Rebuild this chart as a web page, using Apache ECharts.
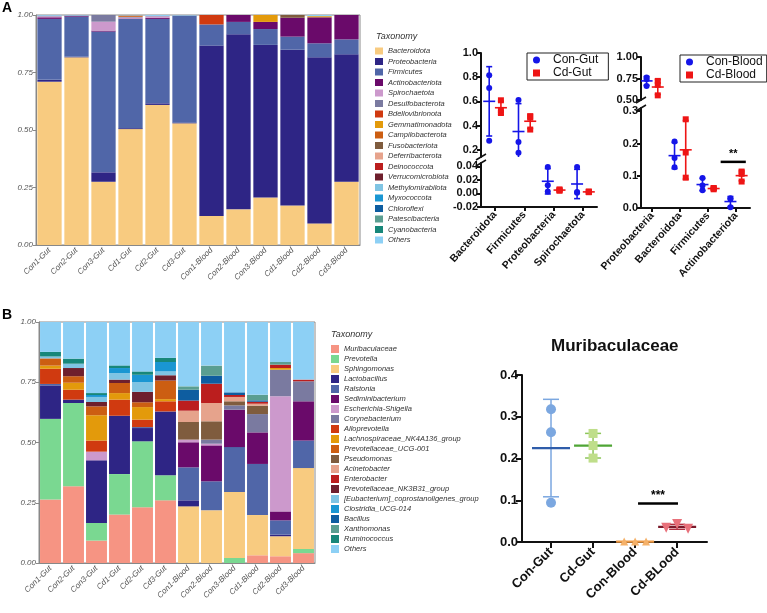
<!DOCTYPE html>
<html><head><meta charset="utf-8">
<script src="https://cdn.jsdelivr.net/npm/echarts@6/dist/echarts.min.js"></script>
<style>html,body{margin:0;padding:0;background:#fff}#c{width:767px;height:613px}</style>
</head><body><div id="c"></div><script>
const FONT = '"Liberation Sans", Arial, Helvetica, sans-serif';

// ---------- Panel A: stacked phylum composition ----------
const samplesA = ['Con1-Gut','Con2-Gut','Con3-Gut','Cd1-Gut','Cd2-Gut','Cd3-Gut','Con1-Blood','Con2-Blood','Con3-Blood','Cd1-Blood','Cd2-Blood','Cd3-Blood'];
const taxaA = ['Bacteroidota','Proteobacteria','Firmicutes','Actinobacteriota','Spirochaetota','Desulfobacterota','Bdellovibrionota','Gemmatimonadota','Campilobacterota','Fusobacteriota','Deferribacterota','Deinococcota','Verrucomicrobiota','Methylomirabilota','Myxococcota','Chloroflexi','Patescibacteria','Cyanobacteria','Others'];
const colorsA = ['#F8CB80','#2E2585','#5066A8','#6A0A6A','#CC99CC','#7A7AA0','#D03A10','#E39A0B','#CC5E12','#7F5C3E','#E6A38C','#BB1E1E','#6E1F2D','#7FC4E3','#1A96D2','#0E5DA0','#5A9E91','#17877A','#8DD0F5'];
const A_Con1Gut   = [0.710,0.008,0.265,0.007,0.004,0.003,0,0,0,0,0,0,0,0,0,0,0,0,0.003];
const A_Con2Gut   = [0.816,0.002,0.175,0.003,0,0.002,0,0,0,0,0,0,0,0,0,0,0,0,0.002];
const A_Con3Gut   = [0.275,0.041,0.612,0.004,0.039,0.029,0,0,0,0,0,0,0,0,0,0,0,0,0];
const A_Cd1Gut    = [0.504,0.004,0.475,0.002,0.004,0.003,0,0,0.006,0,0,0,0,0,0,0,0,0,0.002];
const A_Cd2Gut    = [0.609,0.007,0.367,0.005,0.006,0.002,0,0,0,0,0,0,0,0,0,0,0,0,0.004];
const A_Cd3Gut    = [0.529,0.003,0.465,0,0,0.001,0,0,0,0,0,0,0,0,0,0,0,0,0.002];
const A_Con1Blood = [0.126,0.741,0.092,0,0,0,0.041,0,0,0,0,0,0,0,0,0,0,0,0];
const A_Con2Blood = [0.155,0.761,0.054,0.030,0,0,0,0,0,0,0,0,0,0,0,0,0,0,0];
const A_Con3Blood = [0.206,0.664,0.069,0.031,0,0,0,0.030,0,0,0,0,0,0,0,0,0,0,0];
const A_Cd1Blood  = [0.172,0.677,0.057,0.082,0,0,0,0,0,0.012,0,0,0,0,0,0,0,0,0];
const A_Cd2Blood  = [0.094,0.722,0.061,0.113,0,0,0,0.005,0,0,0,0,0,0,0,0,0,0,0.005];
const A_Cd3Blood  = [0.275,0.554,0.065,0.106,0,0,0,0,0,0,0,0,0,0,0,0,0,0,0];
const rowsA = [A_Con1Gut,A_Con2Gut,A_Con3Gut,A_Cd1Gut,A_Cd2Gut,A_Cd3Gut,A_Con1Blood,A_Con2Blood,A_Con3Blood,A_Cd1Blood,A_Cd2Blood,A_Cd3Blood];

// ---------- Panel A: dot plots ----------
const gutCats = ['Bacteroidota','Firmicutes','Proteobacteria','Spirochaetota'];
const conGut = [[0.710,0.816,0.275],[0.265,0.175,0.612],[0.012,0.003,0.039],[0.002,0.001,0.039]];
const cdGut  = [[0.504,0.609,0.529],[0.475,0.367,0.465],[0.005,0.004,0.006],[0.002,0.003,0.002]];
const bloodCats = ['Proteobacteria','Bacteroidota','Firmicutes','Actinobacteriota'];
const conBlood = [[0.741,0.761,0.664],[0.126,0.155,0.206],[0.093,0.055,0.070],[0.002,0.030,0.028]];
const cdBlood  = [[0.677,0.722,0.554],[0.172,0.094,0.275],[0.058,0.062,0.061],[0.082,0.113,0.106]];
const bloodSig = [[2.45,3.35,0.143,'**']];

// ---------- Panel B: stacked genus composition ----------
const samplesB = samplesA;
const taxaB = ['Muribaculaceae','Prevotella','Sphingomonas','Lactobacillus','Ralstonia','Sediminibacterium','Escherichia-Shigella','Corynebacterium','Alloprevotella','Lachnospiraceae_NK4A136_group','Prevotellaceae_UCG-001','Pseudomonas','Acinetobacter','Enterobacter','Prevotellaceae_NK3B31_group','[Eubacterium]_coprostanoligenes_group','Clostridia_UCG-014','Bacillus','Xanthomonas','Ruminococcus','Others'];
const colorsB = ['#F69483','#7AD891','#F8CB80','#2E2585','#5066A8','#6A0A6A','#CC99CC','#7A7AA0','#D03A10','#E39A0B','#CC5E12','#7F5C3E','#E6A38C','#BB1E1E','#6E1F2D','#7FC4E3','#1A96D2','#0E5DA0','#5A9E91','#17877A','#8DD0F5'];
const B_Con1Gut   = [0.263,0.335,0,0.139,0.006,0,0,0,0.063,0.013,0.030,0,0,0,0,0.008,0,0,0,0.019,0.124];
const B_Con2Gut   = [0.318,0.346,0,0.014,0,0,0,0,0.041,0.029,0.027,0,0,0,0.034,0.018,0,0,0,0.021,0.152];
const B_Con3Gut   = [0.093,0.073,0,0.260,0,0,0.036,0,0.046,0.105,0.037,0,0,0,0.018,0.021,0.008,0,0,0.008,0.295];
const B_Cd1Gut    = [0.201,0.168,0,0.242,0,0,0,0,0.067,0.027,0.042,0,0,0,0.014,0.027,0.021,0,0,0.011,0.180];
const B_Cd2Gut    = [0.231,0.274,0,0.055,0.004,0,0,0,0.031,0.052,0.020,0,0,0,0.043,0.041,0.030,0,0,0.014,0.205];
const B_Cd3Gut    = [0.260,0.104,0,0.265,0,0,0,0,0.042,0.009,0.077,0,0,0,0.022,0.016,0.039,0,0,0.017,0.149];
const B_Con1Blood = [0,0,0.235,0.025,0.137,0.104,0.011,0,0,0,0,0.073,0.047,0.042,0,0,0,0.045,0.014,0,0.267];
const B_Con2Blood = [0,0,0.219,0,0.120,0.149,0.007,0.017,0,0,0,0.076,0.076,0.080,0,0,0,0.033,0.042,0,0.181];
const B_Con3Blood = [0,0.021,0.274,0,0.186,0.155,0,0.018,0,0,0,0.017,0.018,0.008,0,0,0,0.011,0,0,0.292];
const B_Cd1Blood  = [0.032,0,0.167,0,0.212,0.131,0,0.076,0,0,0,0.035,0.008,0.008,0,0,0,0.006,0.023,0,0.302];
const B_Cd2Blood  = [0.028,0,0.083,0.007,0.059,0.037,0.478,0.110,0,0.007,0,0,0,0.014,0,0,0,0,0.011,0,0.166];
const B_Cd3Blood  = [0.041,0.017,0.336,0,0.114,0.163,0,0.083,0,0,0,0,0,0.007,0,0,0,0,0,0,0.239];
const rowsB = [B_Con1Gut,B_Con2Gut,B_Con3Gut,B_Cd1Gut,B_Cd2Gut,B_Cd3Gut,B_Con1Blood,B_Con2Blood,B_Con3Blood,B_Cd1Blood,B_Cd2Blood,B_Cd3Blood];

// ---------- Panel B: Muribaculaceae ----------
const muriCats = ['Con-Gut','Cd-Gut','Con-Blood','Cd-BLood'];
const muriConGut = [0.318,0.263,0.094];
const muriCdGut = [0.260,0.231,0.201];
const muriConBlood = [0.001,0.001,0.001];
const muriCdBlood = [0.034,0.043,0.032];
const muriJitter = [-0.26,0,0.26];
const muriSig = [[2.07,3.02,0.092,'***']];

// ---------- helpers ----------
const mean = a => a.reduce((s,v)=>s+v,0)/a.length;
const sd = a => { const m = mean(a); return Math.sqrt(a.reduce((s,v)=>s+(v-m)*(v-m),0)/(a.length-1)); };

function errRender(o){
  return function(params, api){
    const x = api.value(0), m = api.value(1), s = api.value(2);
    const c = api.coord([x,m]), t = api.coord([x,m+s]), b = api.coord([x,m-s]);
    const st = {stroke:o.color, lineWidth:o.lw};
    const ms = {stroke:o.meanColor||o.color, lineWidth:o.mlw||o.lw};
    const ch = [];
    if (s > 0) {
      ch.push({type:'line', shape:{x1:c[0],y1:t[1],x2:c[0],y2:b[1]}, style:st});
      ch.push({type:'line', shape:{x1:c[0]-o.cap,y1:t[1],x2:c[0]+o.cap,y2:t[1]}, style:st});
      ch.push({type:'line', shape:{x1:c[0]-o.cap,y1:b[1],x2:c[0]+o.cap,y2:b[1]}, style:st});
    }
    ch.push({type:'line', shape:{x1:c[0]-o.half,y1:c[1],x2:c[0]+o.half,y2:c[1]}, style:ms});
    return {type:'group', children:ch};
  };
}
function sigRender(fs){
  return function(params, api){
    const a = api.coord([api.value(0), api.value(2)]), b = api.coord([api.value(1), api.value(2)]);
    return {type:'group', children:[
      {type:'line', shape:{x1:a[0],y1:a[1],x2:b[0],y2:b[1]}, style:{stroke:'#000', lineWidth:2.5}},
      {type:'text', style:{text:api.value(3), x:(a[0]+b[0])/2, y:a[1]-2, align:'center', verticalAlign:'bottom', font:'bold '+fs+'px '+FONT, fill:'#000'}}
    ]};
  };
}

const series = [];
taxaA.forEach((t,i)=>series.push({type:'bar', name:t, stack:'A', xAxisIndex:0, yAxisIndex:0, barCategoryGap:'10%', itemStyle:{color:colorsA[i]}, data:rowsA.map(r=>r[i])}));
taxaB.forEach((t,i)=>series.push({type:'bar', name:t, stack:'B', xAxisIndex:5, yAxisIndex:5, barCategoryGap:'9%', itemStyle:{color:colorsB[i]}, data:rowsB.map(r=>r[i])}));

const BLUE = '#1515E8', RED = '#EE1515';
function dotGroup(name, groups, off, color, symbol, axes){
  axes.forEach(ax=>{
    series.push({type:'custom', name:name+' SD', xAxisIndex:ax, yAxisIndex:ax, clip:true, z:3,
      renderItem: errRender({color:color, lw:1.6, cap:3, half:6}),
      encode:{x:0,y:1}, data: groups.map((g,i)=>[i+off, mean(g), sd(g)])});
    const pts = [];
    groups.forEach((g,i)=>g.forEach(v=>pts.push([i+off, v])));
    series.push({type:'scatter', name:name, xAxisIndex:ax, yAxisIndex:ax, clip:true, z:4, symbol:symbol, symbolSize:6,
      itemStyle:{color:color, opacity:1}, data:pts});
  });
}
dotGroup('Con-Gut', conGut, -0.2, BLUE, 'circle', [1,2]);
dotGroup('Cd-Gut', cdGut, 0.2, RED, 'rect', [1,2]);
dotGroup('Con-Blood', conBlood, -0.2, BLUE, 'circle', [3,4]);
dotGroup('Cd-Blood', cdBlood, 0.2, RED, 'rect', [3,4]);
series.push({type:'custom', name:'sigBlood', xAxisIndex:4, yAxisIndex:4, renderItem:sigRender(11), encode:{x:[0,1],y:2}, data:bloodSig, z:5});

// Muribaculaceae
const muriGroups = [
  {d:muriConGut, pc:'#7BA7E0', ec:'#7BA7E0', mc:'#2F5DAA', sym:'circle', size:10, rot:0, jit:false},
  {d:muriCdGut, pc:'#BFDE8A', ec:'#8CC65A', mc:'#4FA535', sym:'rect', size:9, rot:0, jit:false},
  {d:muriConBlood, pc:'#F5B169', ec:'#F5B169', mc:'#EE9A45', sym:'triangle', size:8, rot:0, jit:true},
  {d:muriCdBlood, pc:'#E8707A', ec:'#B03040', mc:'#7A1A2A', sym:'triangle', size:10, rot:180, jit:true}
];
muriGroups.forEach((g,i)=>{
  series.push({type:'custom', name:muriCats[i]+' SD', xAxisIndex:6, yAxisIndex:6, z:3,
    renderItem: errRender({color:g.ec, lw:1.5, cap:8, half:19, meanColor:g.mc, mlw:2.2}),
    encode:{x:0,y:1}, data:[[i, mean(g.d), sd(g.d)]]});
  series.push({type:'scatter', name:muriCats[i], xAxisIndex:6, yAxisIndex:6, z:4, symbol:g.sym, symbolRotate:g.rot, symbolSize:g.size,
    itemStyle:{color:g.pc, opacity:1}, data:g.d.map((v,k)=>[i+(g.jit?muriJitter[k]:0), v])});
});
series.push({type:'custom', name:'sigMuri', xAxisIndex:6, yAxisIndex:6, renderItem:sigRender(12), encode:{x:[0,1],y:2}, data:muriSig, z:5});

// ---------- axes ----------
const grayLbl = {fontSize:8, fontStyle:'italic', color:'#555', fontFamily:FONT};
const boldLbl = {fontSize:11, fontWeight:'bold', color:'#111', fontFamily:FONT};
const catLbl = {fontSize:10.5, fontWeight:'bold', color:'#111', fontFamily:FONT};
const blackLine = {show:true, onZero:false, lineStyle:{color:'#111', width:2}};
const blackTick = {show:true, length:4, lineStyle:{color:'#111', width:2}};

const xAxis = [
  {gridIndex:0, type:'category', data:samplesA, axisLine:{onZero:false, lineStyle:{color:'#888'}}, axisTick:{alignWithLabel:true, length:3, lineStyle:{color:'#888'}}, axisLabel:Object.assign({rotate:45, margin:4, interval:0}, grayLbl)},
  {gridIndex:1, type:'value', min:-0.48, max:3.48, show:false},
  {gridIndex:2, type:'value', min:-0.48, max:3.48, splitLine:{show:false}, axisLine:blackLine,
    axisTick:Object.assign({customValues:[0,1,2,3]}, blackTick),
    axisLabel:Object.assign({customValues:[0,1,2,3], rotate:48, margin:6, formatter:v=>gutCats[Math.round(v)]}, catLbl)},
  {gridIndex:3, type:'value', min:-0.4, max:3.5, show:false},
  {gridIndex:4, type:'value', min:-0.4, max:3.5, splitLine:{show:false}, axisLine:blackLine,
    axisTick:Object.assign({customValues:[0,1,2,3]}, blackTick),
    axisLabel:Object.assign({customValues:[0,1,2,3], rotate:48, margin:6, formatter:v=>bloodCats[Math.round(v)]}, catLbl)},
  {gridIndex:5, type:'category', data:samplesB, axisLine:{onZero:false, lineStyle:{color:'#888'}}, axisTick:{alignWithLabel:true, length:3, lineStyle:{color:'#888'}}, axisLabel:Object.assign({rotate:45, margin:4, interval:0}, grayLbl)},
  {gridIndex:6, type:'value', min:-0.69, max:3.71, splitLine:{show:false}, axisLine:blackLine,
    axisTick:Object.assign({customValues:[0,1,2,3]}, blackTick, {length:6}),
    axisLabel:Object.assign({customValues:[0,1,2,3], rotate:45, margin:8, formatter:v=>muriCats[Math.round(v)]}, boldLbl, {fontSize:13})}
];
const yAxis = [
  {gridIndex:0, type:'value', min:0, max:1, interval:0.25, splitLine:{show:false}, axisLine:{show:true, lineStyle:{color:'#888'}}, axisTick:{show:true, length:3, lineStyle:{color:'#888'}}, axisLabel:Object.assign({margin:3, formatter:v=>v.toFixed(2)}, grayLbl)},
  {gridIndex:1, type:'value', min:0.14, max:1.0, splitLine:{show:false}, axisLine:blackLine,
    axisTick:Object.assign({customValues:[0.2,0.4,0.6,0.8,1.0]}, blackTick),
    axisLabel:Object.assign({customValues:[0.2,0.4,0.6,0.8,1.0], margin:3, formatter:v=>v.toFixed(1)}, boldLbl)},
  {gridIndex:2, type:'value', min:-0.02, max:0.045, splitLine:{show:false}, axisLine:blackLine,
    axisTick:Object.assign({customValues:[-0.02,0,0.02,0.04]}, blackTick),
    axisLabel:Object.assign({customValues:[-0.02,0,0.02,0.04], margin:3, formatter:v=>v.toFixed(2)}, boldLbl)},
  {gridIndex:3, type:'value', min:0.5, max:1.0, interval:0.25, splitLine:{show:false}, axisLine:blackLine, axisTick:blackTick,
    axisLabel:Object.assign({margin:3, formatter:v=>v.toFixed(2)}, boldLbl)},
  {gridIndex:4, type:'value', min:0, max:0.31, splitLine:{show:false}, axisLine:blackLine,
    axisTick:Object.assign({customValues:[0,0.1,0.2,0.3]}, blackTick),
    axisLabel:Object.assign({customValues:[0,0.1,0.2,0.3], margin:3, formatter:v=>v.toFixed(1)}, boldLbl)},
  {gridIndex:5, type:'value', min:0, max:1, interval:0.25, splitLine:{show:false}, axisLine:{show:true, lineStyle:{color:'#888'}}, axisTick:{show:true, length:3, lineStyle:{color:'#888'}}, axisLabel:Object.assign({margin:3, formatter:v=>v.toFixed(2)}, grayLbl)},
  {gridIndex:6, type:'value', min:0, max:0.4, interval:0.1, splitLine:{show:false}, axisLine:blackLine,
    axisTick:Object.assign({}, blackTick, {length:6}),
    axisLabel:Object.assign({margin:4, formatter:v=>v.toFixed(1)}, boldLbl, {fontSize:13})}
];

const grid = [
  {left:36, top:15, width:324, height:230, show:true, borderColor:'#8a8a8a', borderWidth:1, backgroundColor:'transparent'},
  {left:481, top:53, width:116, height:104},
  {left:481, top:163, width:116, height:44},
  {left:641, top:57, width:109, height:43},
  {left:641, top:108, width:109, height:100},
  {left:39, top:322, width:276, height:241, show:true, borderColor:'#8a8a8a', borderWidth:1, backgroundColor:'transparent'},
  {left:522, top:375, width:185, height:167}
];

const legTax = {orient:'vertical', icon:'rect', itemWidth:8, padding:0, selectedMode:false,
  textStyle:{fontSize:7.5, fontStyle:'italic', color:'#333', fontFamily:FONT}};
const legend = [
  Object.assign({}, legTax, {left:375, top:47, itemHeight:7, itemGap:2.5, data:taxaA, textStyle:Object.assign({}, legTax.textStyle, {lineHeight:7})}),
  Object.assign({}, legTax, {left:331, top:345, itemHeight:8, itemGap:2, data:taxaB, textStyle:Object.assign({}, legTax.textStyle, {lineHeight:8})}),
  {orient:'vertical', left:527, top:53, itemWidth:7, itemHeight:7, itemGap:1, padding:[1,10,1,6], borderColor:'#222', borderWidth:1, selectedMode:false,
    data:[{name:'Con-Gut', icon:'circle'},{name:'Cd-Gut', icon:'rect'}], textStyle:{fontSize:12, color:'#111', fontFamily:FONT, padding:[0,0,0,8]}},
  {orient:'vertical', left:680, top:55, itemWidth:7, itemHeight:7, itemGap:1, padding:[1,4,1,6], borderColor:'#222', borderWidth:1, selectedMode:false,
    data:[{name:'Con-Blood', icon:'circle'},{name:'Cd-Blood', icon:'rect'}], textStyle:{fontSize:12, color:'#111', fontFamily:FONT, padding:[0,0,0,8]}}
];

const title = [
  {text:'A', left:2, top:1, padding:0, textStyle:{fontSize:14, fontWeight:'bold', color:'#000', fontFamily:FONT}},
  {text:'B', left:2, top:308, padding:0, textStyle:{fontSize:14, fontWeight:'bold', color:'#000', fontFamily:FONT}},
  {text:'Taxonomy', left:376, top:32, padding:0, textStyle:{fontSize:9, fontStyle:'italic', fontWeight:'normal', color:'#333', fontFamily:FONT}},
  {text:'Taxonomy', left:331, top:330, padding:0, textStyle:{fontSize:9, fontStyle:'italic', fontWeight:'normal', color:'#333', fontFamily:FONT}},
  {text:'Muribaculaceae', left:551, top:338, padding:0, textStyle:{fontSize:17, fontWeight:'bold', color:'#111', fontFamily:FONT}}
];

// axis-break marks (decoration)
function brk(x, y){ return {type:'line', shape:{x1:x-5, y1:y+3, x2:x+5, y2:y-3}, style:{stroke:'#111', lineWidth:1.5}, z:10}; }
const graphic = [brk(481,157), brk(481,163), brk(641,100), brk(641,108)];

const chart = echarts.init(document.getElementById('c'), null, {renderer:'canvas'});
chart.setOption({animation:false, textStyle:{fontFamily:FONT}, title, legend, grid, xAxis, yAxis, series, graphic});
</script></body></html>
